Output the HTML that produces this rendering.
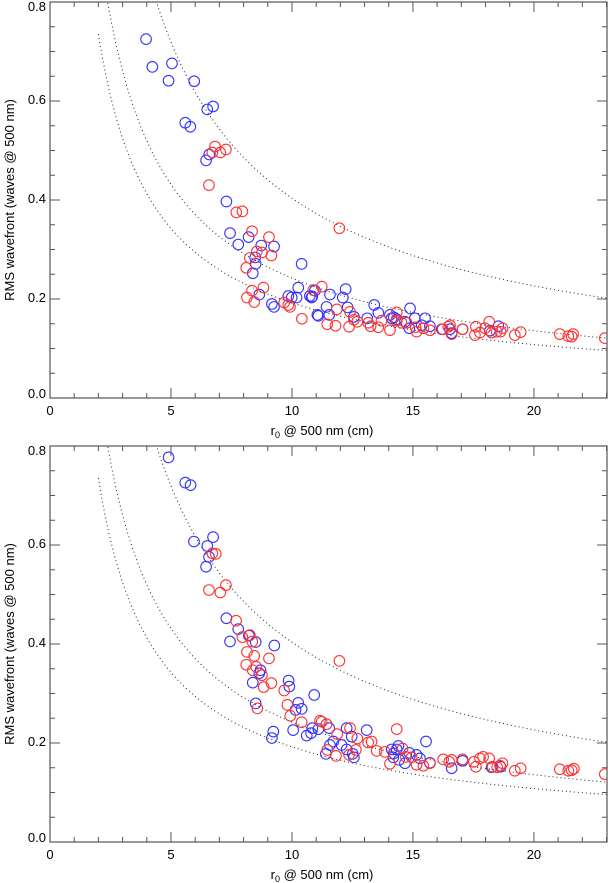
<!DOCTYPE html>
<html><head><meta charset="utf-8"><style>
html,body{margin:0;padding:0;background:#fff;}
svg{display:block;font-family:"Liberation Sans",Arial,sans-serif;}
</style></head><body>
<svg id="fig" width="608" height="883" viewBox="0 0 608 883" xmlns="http://www.w3.org/2000/svg"></svg>
<script>
// ---- data ----
const xTicksMajor = [0,5,10,15,20];
const yTicksMajor = [0.0,0.2,0.4,0.6,0.8];
const curveCoeffs = [2.75,1.65,1.31];
const curveExponent = 5/6;
// top panel
const topBlueR = [3.97,4.23,5.04,4.9,5.96,6.5,6.74,5.59,5.8,6.45,6.58,7.29,7.44,7.78,8.21,8.73,9.26,8.48,8.5,8.38,10.4,8.65,9.17,9.26,9.85,10.26,10.74,10.95,10.84,11.05,9.99,10.19,10.81,11.57,12.22,12.1,11.43,11.54,11.09,12.3,12.56,13.11,13.4,13.57,14.05,14.12,14.21,14.33,14.88,14.67,14.85,15.08,15.5,15.7,15.36,16.19,16.53,16.6,17.05,18.53,18.18];
const topBlueV = [0.725,0.669,0.676,0.641,0.640,0.583,0.589,0.556,0.548,0.480,0.492,0.397,0.333,0.310,0.325,0.308,0.306,0.284,0.271,0.252,0.271,0.209,0.190,0.184,0.206,0.223,0.206,0.217,0.205,0.168,0.203,0.203,0.203,0.209,0.220,0.203,0.184,0.168,0.166,0.183,0.164,0.161,0.188,0.172,0.168,0.161,0.163,0.159,0.181,0.154,0.141,0.161,0.161,0.145,0.147,0.139,0.139,0.131,0.139,0.145,0.136];
const topRedR = [6.57,6.82,6.71,7.04,7.27,7.7,7.95,8.35,9.05,8.55,8.76,8.26,9.15,8.11,8.82,8.35,8.14,8.44,9.68,9.85,9.92,10.41,11.96,11.23,10.88,11.85,11.46,11.8,12.36,12.4,12.56,12.7,13.15,13.25,13.57,13.7,14.05,14.33,14.33,14.53,14.74,15.15,15.11,15.43,15.7,16.23,16.46,16.6,16.53,17.05,17.6,17.56,17.77,17.98,18.15,18.25,18.46,18.62,18.7,19.21,19.45,21.07,21.42,21.56,21.62,22.93];
const topRedV = [0.430,0.508,0.496,0.496,0.502,0.375,0.377,0.337,0.325,0.296,0.294,0.283,0.288,0.263,0.223,0.217,0.203,0.194,0.193,0.188,0.184,0.160,0.343,0.225,0.218,0.179,0.149,0.146,0.144,0.174,0.158,0.154,0.152,0.145,0.143,0.156,0.137,0.173,0.156,0.152,0.152,0.134,0.143,0.141,0.137,0.139,0.144,0.129,0.147,0.139,0.144,0.127,0.132,0.141,0.154,0.132,0.134,0.134,0.141,0.127,0.133,0.129,0.125,0.124,0.129,0.121];
// bottom panel
const botBlueR = [4.9,5.59,5.81,5.95,6.74,6.5,6.57,6.45,7.29,7.78,7.44,8.22,8.5,9.27,8.7,8.65,8.38,9.86,9.89,8.5,10.92,10.26,10.15,10.4,10.05,9.23,9.17,10.61,10.79,10.84,11.09,11.54,11.4,11.57,11.71,12.05,12.26,12.51,12.56,12.26,12.47,13.09,14.12,14.33,14.4,14.21,14.19,14.43,14.67,14.85,15.15,15.29,15.7,15.54,16.6,17.05,18.25,18.62];
const botBlueV = [0.777,0.726,0.721,0.607,0.616,0.598,0.576,0.556,0.452,0.430,0.405,0.417,0.404,0.397,0.347,0.341,0.322,0.326,0.314,0.280,0.297,0.281,0.267,0.269,0.226,0.223,0.210,0.215,0.220,0.230,0.228,0.230,0.178,0.196,0.203,0.196,0.187,0.178,0.171,0.230,0.213,0.226,0.187,0.187,0.194,0.179,0.171,0.166,0.159,0.180,0.176,0.169,0.160,0.203,0.149,0.164,0.151,0.152];
const botRedR = [6.71,6.85,6.57,7.04,7.27,7.69,7.95,8.26,8.36,8.14,8.44,9.05,8.11,8.38,8.52,8.76,8.83,9.15,9.68,9.81,9.93,10.4,8.57,11.16,11.96,11.23,11.43,11.87,12.4,12.7,11.46,11.82,12.36,12.64,13.15,13.29,14.33,13.5,13.84,14.05,14.57,14.71,14.95,15.15,15.43,15.7,16.25,16.5,16.6,17.05,17.52,17.6,17.77,17.9,18.15,18.29,18.48,18.6,18.7,19.21,19.45,21.07,21.42,21.56,21.65,22.93];
const botRedV = [0.583,0.582,0.509,0.504,0.519,0.447,0.414,0.418,0.405,0.384,0.376,0.371,0.358,0.347,0.354,0.337,0.313,0.321,0.306,0.277,0.255,0.242,0.270,0.245,0.366,0.243,0.238,0.218,0.230,0.209,0.186,0.174,0.176,0.186,0.201,0.203,0.228,0.184,0.182,0.158,0.189,0.172,0.171,0.156,0.154,0.159,0.167,0.162,0.166,0.167,0.162,0.152,0.169,0.172,0.169,0.152,0.151,0.154,0.159,0.144,0.149,0.147,0.144,0.145,0.148,0.137];

const NS='http://www.w3.org/2000/svg';
const svg=document.getElementById('fig');
function mk(tag,attrs,parent){const e=document.createElementNS(NS,tag);for(const k in attrs)e.setAttribute(k,attrs[k]);(parent||svg).appendChild(e);return e;}

const X0=50,X1=607,XMIN=0,XMAX=23.02;
function xs(r){return X0+(r-XMIN)/(XMAX-XMIN)*(X1-X0);}

function panel(name,top,bottom,bR,bV,rR,rV){
  const g=mk('g',{});
  
  
  const ys=v=>bottom-(v/0.8)*(bottom-top);
  const cid='clip-'+name;
  const cp=mk('clipPath',{id:cid},g);mk('rect',{x:X0,y:top,width:X1-X0,height:bottom-top},cp);
  curveCoeffs.forEach((k,i)=>{
    let d='';
    for(let r=2;r<=23.1;r+=0.05){const v=k/Math.pow(r,curveExponent);d+=(d?'L':'M')+xs(r).toFixed(2)+','+ys(v).toFixed(2);}
    const p=mk('path',{d:d,fill:'none',stroke:'#222','stroke-width':1,'stroke-dasharray':'1,3','clip-path':'url(#'+cid+')'},g);
    
    
  });
  const drawPts=(R,V,col,nm)=>{
    const sg=mk('g',{'clip-path':'url(#'+cid+')'},g);
    
    
    for(let i=0;i<R.length;i++){
      const c=mk('circle',{cx:xs(R[i]).toFixed(2),cy:ys(V[i]).toFixed(2),r:5.3,fill:'none',stroke:col,'stroke-width':1.1},sg);
      
      
    }
  };
  drawPts(bR,bV,'#3333ff','blue');
  drawPts(rR,rV,'#ff3333','red');
  const box=mk('rect',{x:X0,y:top,width:X1-X0,height:bottom-top,fill:'none',stroke:'#555','stroke-width':1.2},g);
  
  
  for(let t=0;t<=23;t++){
    const x=xs(t),len=(t%5===0)?10:5;
    mk('line',{x1:x,y1:bottom,x2:x,y2:bottom-len,stroke:'#555','stroke-width':1},g);
    mk('line',{x1:x,y1:top,x2:x,y2:top+len,stroke:'#555','stroke-width':1},g);
  }
  xTicksMajor.forEach(t=>{
    const tx=mk('text',{x:xs(t),y:bottom+17,'text-anchor':'middle','font-size':13,fill:'#000'},g);
    tx.textContent=String(t);
    
    
  });
  for(let i=0;i<=16;i++){
    const v=i*0.05,y=ys(v),len=(i%4===0)?10:5;
    mk('line',{x1:X0,y1:y,x2:X0+len,y2:y,stroke:'#555','stroke-width':1},g);
    mk('line',{x1:X1,y1:y,x2:X1-len,y2:y,stroke:'#555','stroke-width':1},g);
  }
  yTicksMajor.forEach(v=>{
    const y=ys(v);
    let by=y+3;
    if(v>=0.79) by=y+9;
    if(v<=0.01) by=y;
    const tx=mk('text',{x:46,y:by,'text-anchor':'end','font-size':13,fill:'#000'},g);
    tx.textContent=v.toFixed(1);
    
    
  });
  const xt=mk('text',{x:322,y:bottom+37,'text-anchor':'middle','font-size':13,fill:'#000'},g);
  
  
  xt.innerHTML='r<tspan font-size="9" dy="3">0</tspan><tspan dy="-3"> @ 500 nm (cm)</tspan>';
  const cy=(top+bottom)/2;
  const yt=mk('text',{x:14,y:cy,'text-anchor':'middle','font-size':13,fill:'#000',transform:'rotate(-90 14 '+cy+')'},g);
  
  
  yt.textContent='RMS wavefront (waves @ 500 nm)';
}
panel('top-panel',2,398,topBlueR,topBlueV,topRedR,topRedV);
panel('bottom-panel',446,842,botBlueR,botBlueV,botRedR,botRedV);
</script>
</body></html>
